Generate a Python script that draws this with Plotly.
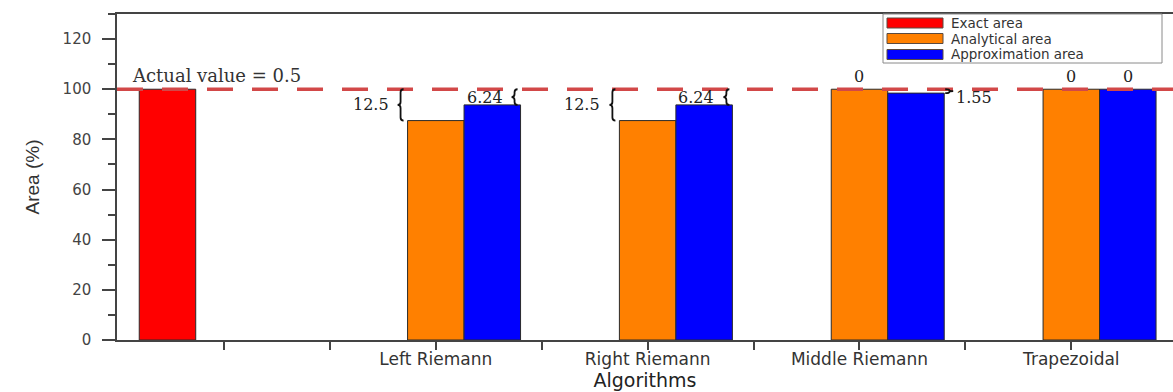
import plotly.graph_objects as go

# ---- data -------------------------------------------------------------
categories = ["", "Left Riemann", "Right Riemann", "Middle Riemann", "Trapezoidal"]
exact_area = [100, None, None, None, None]
analytical_error = [None, 12.5, 12.5, 0, 0]        # % below the exact area
approximation_error = [None, 6.24, 6.24, 1.55, 0]  # % below the exact area
reference_level = 100
actual_value = 0.5
y_ticks = [0, 20, 40, 60, 80, 100, 120]

analytical_area = [None if e is None else reference_level - e for e in analytical_error]
approximation_area = [None if e is None else reference_level - e for e in approximation_error]
positions = list(range(1, len(categories) + 1))

# ---- geometry helpers ---------------------------------------------------
W, H = 1173, 392
PL, PR, PT, PB = 117, 1173, 14, 340
X_RANGE = [0.495, 5.48]
Y_RANGE = [0, 130]
UX = (X_RANGE[1] - X_RANGE[0]) / (PR - PL)   # data units per pixel (x)
UY = (Y_RANGE[1] - Y_RANGE[0]) / (PB - PT)   # data units per pixel (y)
BARGAP = 0.2
BAR_W = (1 - BARGAP) / 3


def px(xp):
    return (xp - PL) / (PR - PL)


def py(yp):
    return (PB - yp) / (PB - PT)


def brace_path(tip, arm, y_lo, y_hi):
    """Curly brace in data coordinates; the tip sits at x=tip, the arms at x=arm."""
    xm = (tip + arm) / 2
    ymid = (y_lo + y_hi) / 2
    dy = min(3 * UY, (y_hi - y_lo) / 4)
    return (f"M {arm},{y_hi} Q {xm},{y_hi} {xm},{y_hi - dy} "
            f"L {xm},{ymid + dy} Q {xm},{ymid} {tip},{ymid} "
            f"Q {xm},{ymid} {xm},{ymid - dy} "
            f"L {xm},{y_lo + dy} Q {xm},{y_lo} {arm},{y_lo}")


SERIF = "DejaVu Serif"
SANS = "DejaVu Sans"
AXIS_COLOR = "#444444"
OUTLINE = "#2a2a2a"

fig = go.Figure()
series = [
    ("Exact area", exact_area, "#ff0000"),
    ("Analytical area", analytical_area, "#ff8000"),
    ("Approximation area", approximation_area, "#0000ff"),
]
for name, vals, color in series:
    fig.add_trace(go.Bar(
        x=positions, y=vals, name=name, showlegend=False,
        marker=dict(color=color, line=dict(color=OUTLINE, width=1)),
    ))

shapes = []
annotations = []

# reference level line
shapes.append(dict(type="line", xref="paper", x0=0, x1=1, yref="y",
                   y0=reference_level, y1=reference_level, layer="above",
                   line=dict(color="#d24848", width=3.5, dash="26px,19px")))
annotations.append(dict(xref="paper", x=px(130), y=reference_level, yref="y",
                        xanchor="left", yanchor="bottom", yshift=1, showarrow=False,
                        text=f"Actual value = {actual_value}",
                        font=dict(family=SERIF, size=18, color="#333333")))

# error markers: braces with the gap to the exact area, or a "0" above the bar
label_font = dict(family=SERIF, size=16, color="#222222")
for offset_idx, errs in ((0, analytical_error), (1, approximation_error)):
    for pos, err in zip(positions, errs):
        if err is None:
            continue
        centre = pos + offset_idx * BAR_W
        top = reference_level - err
        if err == 0:
            annotations.append(dict(x=centre, y=top, xanchor="center", yanchor="bottom",
                                    yshift=1, showarrow=False, text=f"{err:g}", font=label_font))
            continue
        if offset_idx == 0:
            arm = centre - BAR_W / 2 - 4 * UX
            tip = centre - BAR_W / 2 - 10 * UX
            side = "left"
        elif err > 3:
            arm = centre + BAR_W / 2 - 3 * UX
            tip = centre + BAR_W / 2 - 9 * UX
            side = "left"
        else:
            arm = centre + BAR_W / 2 + 1 * UX
            tip = centre + BAR_W / 2 + 9 * UX
            side = "right"
        shapes.append(dict(type="path", xref="x", yref="y", layer="above",
                           path=brace_path(tip, arm, top, reference_level),
                           line=dict(color="#111111", width=1.8)))
        ymid = (top + reference_level) / 2
        if side == "left":
            annotations.append(dict(x=tip, y=ymid, xanchor="right", yanchor="middle",
                                    xshift=-7, showarrow=False, text=f"{err:g}", font=label_font))
        else:
            annotations.append(dict(x=tip, y=ymid, xanchor="left", yanchor="middle",
                                    xshift=1, yshift=-6, showarrow=False, text=f"{err:g}",
                                    font=label_font))

# legend drawn as a framed box with long swatches
shapes.append(dict(type="rect", xref="paper", yref="paper",
                   x0=px(883), x1=px(1162), y0=py(63), y1=py(14), layer="above",
                   fillcolor="white", line=dict(color="#8a8a8a", width=1)))
for (name, _, color), yc in zip(series, (23, 38.5, 54.5)):
    shapes.append(dict(type="rect", xref="paper", yref="paper", layer="above",
                       x0=px(887), x1=px(943), y0=py(yc + 5), y1=py(yc - 5),
                       fillcolor=color, line=dict(color="#5a4a40", width=1)))
    annotations.append(dict(xref="paper", yref="paper", x=px(950), y=py(yc),
                            xanchor="left", yanchor="middle", showarrow=False, text=name,
                            borderpad=0,
                            font=dict(family=SANS, size=13.5, color="#333333")))

fig.update_layout(
    width=W, height=H,
    margin=dict(l=PL, r=W - PR, t=PT, b=H - PB, autoexpand=False),
    paper_bgcolor="white", plot_bgcolor="white",
    barmode="group", bargap=BARGAP, bargroupgap=0,
    shapes=shapes, annotations=annotations,
    showlegend=False,
    xaxis=dict(
        range=X_RANGE, tickmode="array", tickvals=positions, ticktext=categories,
        ticks="outside", ticklen=8, tickwidth=1.5, tickcolor=AXIS_COLOR,
        minor=dict(tickvals=[p + 0.5 for p in positions[:-1]], ticks="outside",
                   ticklen=8, tickwidth=1.5, tickcolor=AXIS_COLOR),
        showline=True, linecolor=AXIS_COLOR, linewidth=1.5, mirror=True,
        showgrid=False, zeroline=False, ticklabelstandoff=-5,
        tickfont=dict(family=SANS, size=17, color="#333333"),
        title=dict(text="Algorithms", standoff=6,
                   font=dict(family=SANS, size=19, color="#222222")),
    ),
    yaxis=dict(
        range=Y_RANGE, tickmode="array", tickvals=y_ticks,
        ticks="outside", ticklen=13, tickwidth=1.5, tickcolor=AXIS_COLOR,
        minor=dict(dtick=10, ticks="outside", ticklen=7, tickwidth=1.5, tickcolor=AXIS_COLOR),
        showline=True, linecolor=AXIS_COLOR, linewidth=1.5,
        showgrid=False, zeroline=False, ticklabelstandoff=8,
        tickfont=dict(family=SANS, size=15, color="#444444"),
        title=dict(text="Area (%)", standoff=18,
                   font=dict(family="Liberation Sans", size=19, color="#333333")),
    ),
)

fig.write_html("out.html")
